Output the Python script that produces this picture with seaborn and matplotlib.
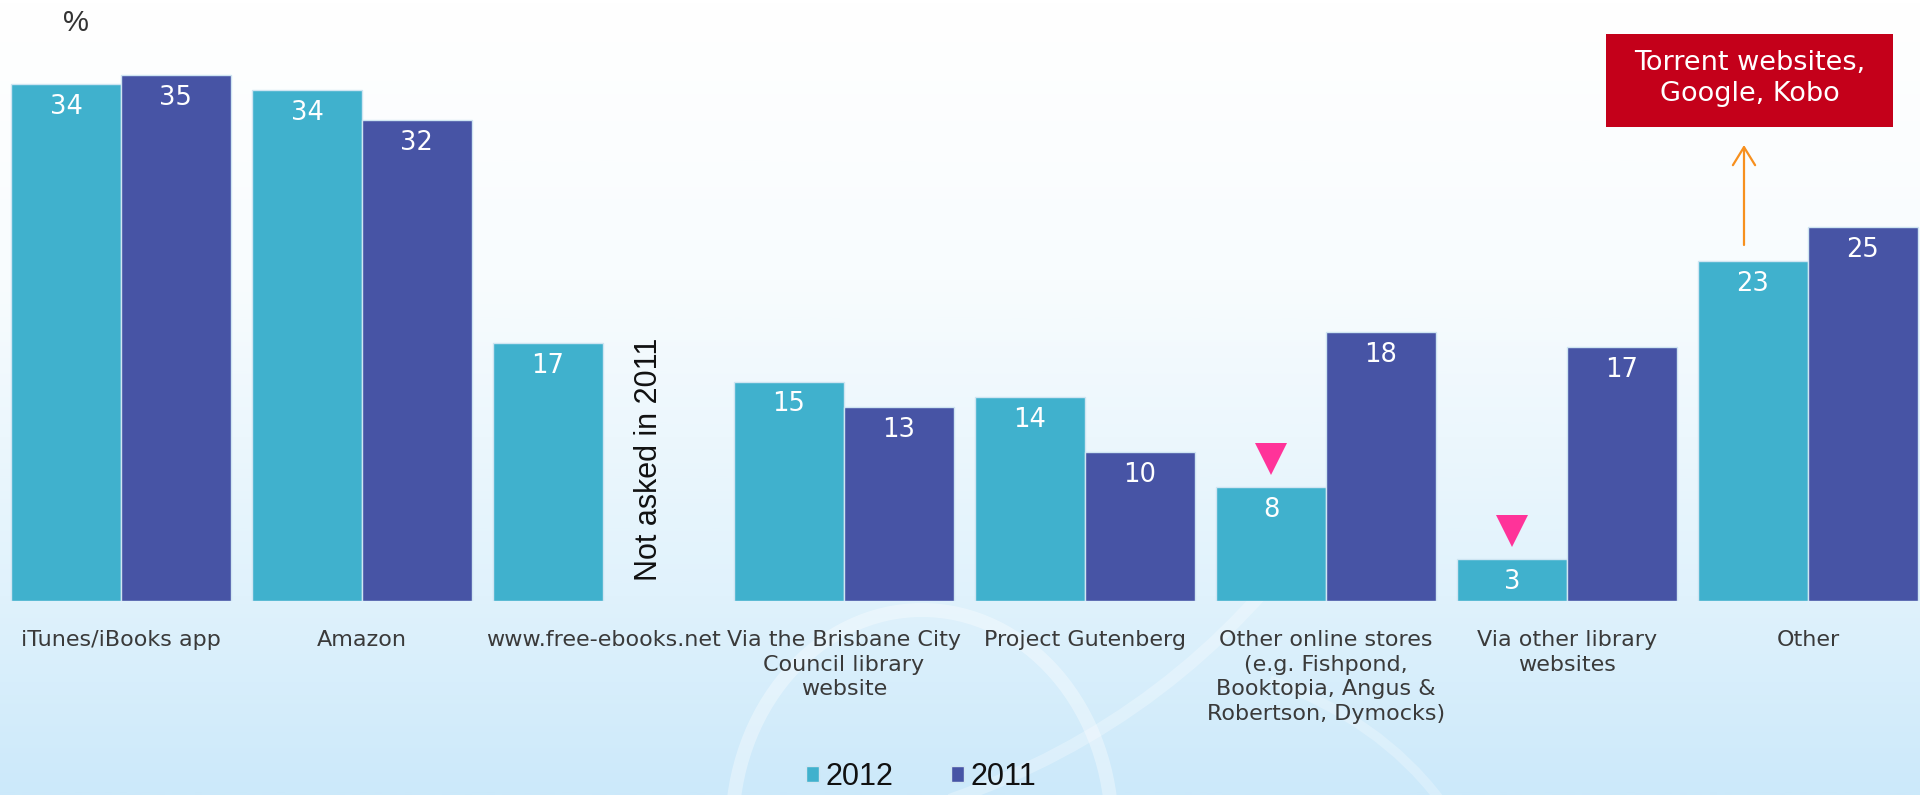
import numpy as np
import pandas as pd
import matplotlib.pyplot as plt
import seaborn as sns
from matplotlib.colors import LinearSegmentedColormap
from matplotlib.patches import Rectangle, Arc, PathPatch
from matplotlib.path import Path

# data (% of ebook readers by source)
categories = [
    "iTunes/iBooks app",
    "Amazon",
    "www.free-ebooks.net",
    "Via the Brisbane City\nCouncil library\nwebsite",
    "Project Gutenberg",
    "Other online stores\n(e.g. Fishpond,\nBooktopia, Angus &\nRobertson, Dymocks)",
    "Via other library\nwebsites",
    "Other",
]
years = ["2012", "2011"]
values_2012 = [34.4, 34.0, 17.15, 14.6, 13.6, 7.6, 2.8, 22.6]
values_2011 = [35.0, 32.0, np.nan, 12.9, 9.9, 17.9, 16.9, 24.9]
labels_2012 = ["34", "34", "17", "15", "14", "8", "3", "23"]
labels_2011 = ["35", "32", "", "13", "10", "18", "17", "25"]
significant_drop = [5, 6]  # categories with a pink down-triangle on the 2012 bar

colors = {"2012": "#40B1CD", "2011": "#4754A5"}

sns.set_theme(style="white")
plt.rcParams["font.family"] = ["DejaVu Sans"]

df = pd.DataFrame({
    "source": categories * 2,
    "year": ["2012"] * len(categories) + ["2011"] * len(categories),
    "pct": values_2012 + values_2011,
}).dropna()

fig = plt.figure(figsize=(19.2, 7.95), dpi=100)

# --- background gradient + faint swoosh ---
bg = fig.add_axes([0, 0, 1, 1], zorder=0)
cmap = LinearSegmentedColormap.from_list(
    "bg", [(0, "#FFFFFF"), (0.35, "#F8FCFE"), (0.75, "#E0F2FC"), (1, "#CCE9FA")])
grad = np.linspace(0, 1, 400).reshape(-1, 1)
bg.imshow(grad, cmap=cmap, aspect="auto", extent=(0, 1920, 795, 0))
# y axis is inverted here, so angles 180..360 are the upper half on screen
bg.add_patch(Arc((922, 830), 380, 440, theta1=180, theta2=360,
                 color="white", lw=10, alpha=0.35))
swoosh = Path([(950, 800), (1180, 720), (1320, 520)],
              [Path.MOVETO, Path.CURVE3, Path.CURVE3])
bg.add_patch(PathPatch(swoosh, facecolor="none", edgecolor="white", lw=9, alpha=0.28))
swoosh2 = Path([(1270, 680), (1380, 720), (1440, 800)],
               [Path.MOVETO, Path.CURVE3, Path.CURVE3])
bg.add_patch(PathPatch(swoosh2, facecolor="none", edgecolor="white", lw=7, alpha=0.25))
bg.set_xlim(0, 1920)
bg.set_ylim(795, 0)
bg.axis("off")

# --- main bar chart ---
ax = fig.add_axes([0, (795 - 601) / 795, 1, 601 / 795], zorder=1)
ax.patch.set_alpha(0)
sns.barplot(data=df, x="source", y="pct", hue="year", hue_order=years,
            order=categories, palette=colors, saturation=1, width=0.912,
            errorbar=None, edgecolor="#cfe5f2", linewidth=1, ax=ax)

half = 0.912 / 4
for i in range(len(categories)):
    for v, lab, dx in [(values_2012[i], labels_2012[i], -half),
                       (values_2011[i], labels_2011[i], half)]:
        if lab:
            ax.annotate(lab, (i + dx, v), xytext=(0, -16.5), textcoords="offset points",
                        ha="center", va="center", color="white", fontsize=18.5)

for i in significant_drop:
    ax.plot(i - half, values_2012[i] + 1.83, marker="v", markersize=23.5,
            color="#FF3399", markeredgewidth=0, linestyle="none")

ax.text(2.19, 9.4, "Not asked in 2011", rotation=90, ha="center", va="center",
        fontsize=22, family=["Liberation Sans", "DejaVu Sans"], color="#111111")

ax.set_xlim(-0.502, 7.465)
ax.set_ylim(0, 601 / 15.03)
ax.set_xticks(range(len(categories)))
ax.set_xticklabels(categories, fontsize=16, color="#3a3a3a", linespacing=1.28)
ax.tick_params(axis="x", length=0, pad=21)
ax.set_yticks([])
ax.set_xlabel("")
ax.set_ylabel("")
sns.despine(ax=ax, left=True, bottom=True)

sns.move_legend(ax, "center", bbox_to_anchor=(921 / 1920, 1 - 777 / 795),
                bbox_transform=fig.transFigure, ncol=2, frameon=False, title=None,
                prop={"family": ["Liberation Sans", "DejaVu Sans"], "size": 22},
                handlelength=0.42, handleheight=0.42, handletextpad=0.2,
                columnspacing=1.9, labelcolor="#111111", borderpad=0.1)

# --- annotations ---
fig.text(76 / 1920, 1 - 23 / 795, "%", ha="center", va="center", fontsize=21,
         family=["Liberation Sans", "DejaVu Sans"], color="#333333")

fig.patches.append(Rectangle((1606 / 1920, 1 - 127 / 795), 287 / 1920, 93 / 795,
                             transform=fig.transFigure, facecolor="#C4001A",
                             edgecolor="none", zorder=2))
fig.text(1749.5 / 1920, 1 - 78.5 / 795, "Torrent websites,\nGoogle, Kobo",
         ha="center", va="center", fontsize=19.5, color="white", linespacing=1.25,
         zorder=3)
ax.annotate("", xy=(1744 / 1920, 1 - 145 / 795), xytext=(1744 / 1920, 1 - 245 / 795),
            xycoords="figure fraction", textcoords="figure fraction",
            arrowprops=dict(arrowstyle="->,head_length=0.65,head_width=0.4",
                            color="#F7901E", lw=1.6, mutation_scale=20,
                            shrinkA=0, shrinkB=0))

fig.savefig("out.png", dpi=100)
